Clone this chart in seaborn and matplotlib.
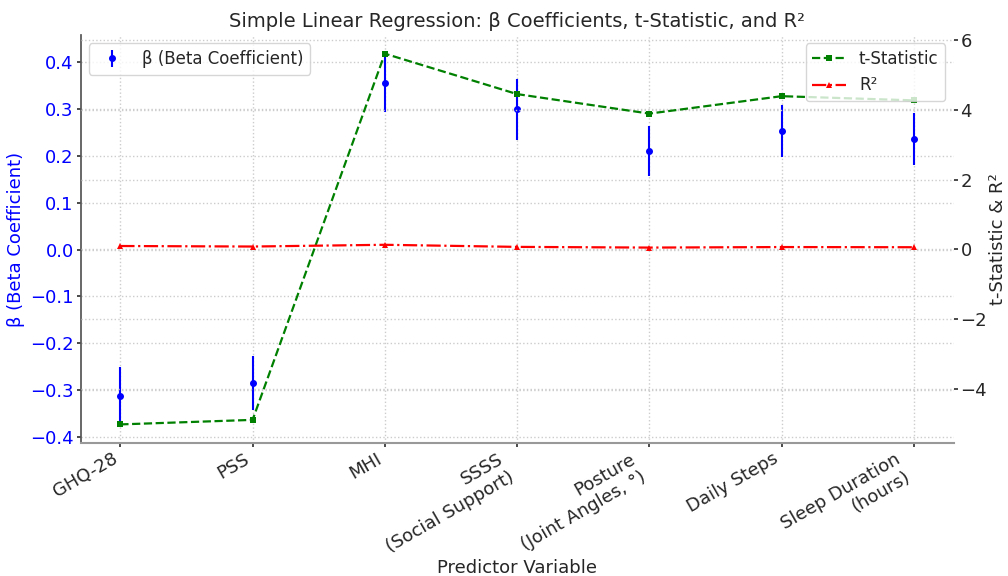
import numpy as np
import pandas as pd
import matplotlib
matplotlib.use("Agg")
import matplotlib.pyplot as plt
import seaborn as sns

predictors = ["GHQ-28", "PSS", "MHI", "SSSS\n(Social Support)", "Posture\n(Joint Angles, °)",
              "Daily Steps", "Sleep Duration\n(hours)"]
beta = [-0.312, -0.284, 0.356, 0.299, 0.211, 0.253, 0.236]
beta_err = [0.061, 0.058, 0.062, 0.066, 0.053, 0.055, 0.055]
t_stat = [-5.02, -4.89, 5.62, 4.46, 3.90, 4.40, 4.28]
r_squared = [0.10, 0.085, 0.135, 0.075, 0.055, 0.07, 0.065]

sns.set_theme(style="whitegrid")
plt.rcParams['font.family'] = ['DejaVu Sans']

df = pd.DataFrame({"pos": np.arange(len(predictors)), "beta": beta, "err": beta_err,
                   "t": t_stat, "r2": r_squared})

fig, ax1 = plt.subplots(figsize=(10.08, 5.76), dpi=100)
fig.subplots_adjust(left=0.080, right=0.946, top=0.939, bottom=0.231)

ax1.errorbar(df["pos"], df["beta"], yerr=df["err"], fmt='o', color='blue',
             markersize=4, elinewidth=1.5, capsize=0, label="β (Beta Coefficient)", zorder=3)
ax1.set_ylabel("β (Beta Coefficient)", color='blue', fontsize=13, labelpad=4)
ax1.tick_params(axis='y', labelcolor='blue', labelsize=13, length=3, pad=2, left=True, color='#333333')
ax1.tick_params(axis='x', labelsize=13, length=3, pad=2, bottom=True, color='#333333')
ax1.set_xticks(df["pos"])
ax1.set_xticklabels(predictors, rotation=30, ha='right', rotation_mode='default')
ax1.set_xlabel("Predictor Variable", fontsize=13, labelpad=2)
ax1.grid(True, linestyle=':', color='#cccccc', linewidth=1)

ax2 = ax1.twinx()
sns.lineplot(data=df, x="pos", y="t", ax=ax2, color='green', linestyle='--', marker='s',
             markersize=5, markeredgewidth=0, linewidth=1.6, label="t-Statistic")
sns.lineplot(data=df, x="pos", y="r2", ax=ax2, color='red', linestyle='-.', marker='^',
             markersize=5, markeredgewidth=0, linewidth=1.6, label="R²")
ax2.set_ylabel("t-Statistic & R²", fontsize=13, labelpad=1)
ax2.set_xlabel("")
ax2.tick_params(axis='y', labelsize=13, length=3, pad=2, right=True, color='#333333')
ax2.grid(True, linestyle=':', color='#cccccc', linewidth=1)

for ax in (ax1, ax2):
    for s in ("top", "right", "left", "bottom"):
        ax.spines[s].set_visible(False)
ax1.spines["left"].set_visible(True)
ax1.spines["left"].set_color('#555555')
ax1.spines["bottom"].set_visible(True)
ax1.spines["bottom"].set_color('#999999')
ax1.spines["bottom"].set_linewidth(1.5)

ax1.set_xlim(-0.3, 6.3)

ax1.legend(loc='upper left', fontsize=12, frameon=True)
ax2.legend(loc='upper right', fontsize=12, frameon=True)

ax1.set_title("Simple Linear Regression: β Coefficients, t-Statistic, and R²", fontsize=14)

fig.savefig("out.png", dpi=100)
